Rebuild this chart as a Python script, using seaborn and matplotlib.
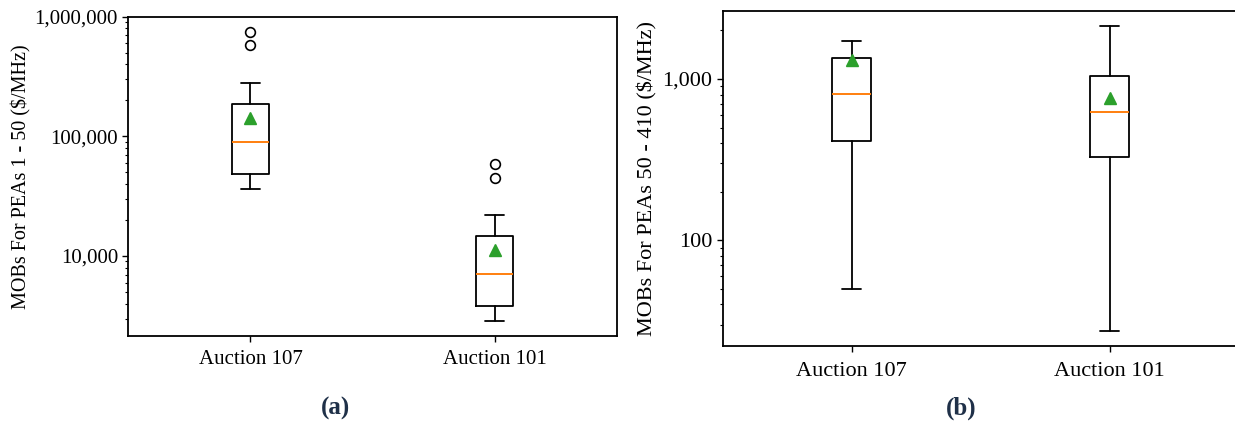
import matplotlib
matplotlib.use("Agg")
import matplotlib.pyplot as plt
import matplotlib.ticker as mticker
import seaborn as sns

# ---- data ----
auctions = ["Auction 107", "Auction 101"]

# panel (a): MOBs for PEAs 1 - 50
a_whislo = [36500, 2840]
a_q1 = [48400, 3820]
a_med = [89700, 7030]
a_q3 = [186000, 14600]
a_whishi = [277000, 21900]
a_mean = [141000, 11200]
a_fliers = [[580000, 750000], [45200, 58800]]

# panel (b): MOBs for PEAs 50 - 410
b_whislo = [49.9, 27.5]
b_q1 = [411, 327]
b_med = [803, 628]
b_q3 = [1343, 1039]
b_whishi = [1711, 2141]
b_mean = [1312, 766]
b_fliers = [[], []]

a_ylabel = "MOBs For PEAs 1 - 50 (\\$/MHz)"
b_ylabel = "MOBs For PEAs 50 - 410 (\\$/MHz)"

sns.set_theme(style="ticks", palette="tab10")
plt.rcParams["font.family"] = ["Liberation Serif", "DejaVu Serif"]
plt.rcParams["axes.edgecolor"] = "black"
plt.rcParams["xtick.color"] = "black"
plt.rcParams["ytick.color"] = "black"
plt.rcParams["text.color"] = "black"
plt.rcParams["axes.labelcolor"] = "black"


def make_stats(labels, whislo, q1, med, q3, whishi, mean, fliers):
    out = []
    for i, lab in enumerate(labels):
        out.append(dict(label=lab, whislo=whislo[i], q1=q1[i], med=med[i],
                        q3=q3[i], whishi=whishi[i], mean=mean[i],
                        fliers=fliers[i]))
    return out


W, H = 1235, 424
fig = plt.figure(figsize=(W / 100, H / 100), dpi=100)

ax_a = fig.add_axes([128.4 / W, 1 - 335.7 / H, (616.7 - 128.4) / W, (335.7 - 16.7) / H])
ax_b = fig.add_axes([722.5 / W, 1 - 345.7 / H, 516.0 / W, (345.7 - 10.7) / H])

common = dict(
    showmeans=True,
    boxprops=dict(color="black", linewidth=1.3),
    whiskerprops=dict(color="black", linewidth=1.3),
    capprops=dict(color="black", linewidth=1.3),
    medianprops=dict(color="#ff7f0e", linewidth=1.4),
    meanprops=dict(marker="^", markerfacecolor="#2ca02c", markeredgecolor="#2ca02c",
                   markersize=8),
    flierprops=dict(marker="o", markerfacecolor="none", markeredgecolor="black",
                    markersize=7, markeredgewidth=1.2),
)

ax_a.bxp(make_stats(auctions, a_whislo, a_q1, a_med, a_q3, a_whishi, a_mean, a_fliers),
         **common)
ax_b.bxp(make_stats(auctions, b_whislo, b_q1, b_med, b_q3, b_whishi, b_mean, b_fliers),
         **common)

fmt = mticker.FuncFormatter(lambda v, p: f"{v:,.0f}")
for ax, ylim, lab, fs, lfs, xpad in [(ax_a, (2157, 1.0e6), a_ylabel, 15, 14.5, 6.5),
                                     (ax_b, (22.2, 2650), b_ylabel, 16, 16, 7.5)]:
    ax.set_yscale("log")
    ax.set_ylim(*ylim)
    ax.set_xlim(0.5, 2.5)
    ax.yaxis.set_major_formatter(fmt)
    ax.yaxis.set_minor_formatter(mticker.NullFormatter())
    ax.set_ylabel(lab, fontsize=lfs)
    ax.tick_params(axis="both", which="major", labelsize=fs, length=4, width=1)
    ax.tick_params(axis="x", which="major", pad=xpad)
    ax.tick_params(axis="y", which="minor", length=2.5, width=0.8)
    for s in ax.spines.values():
        s.set_linewidth(1.3)
        s.set_visible(True)

ax_a.yaxis.set_label_coords(-(128.4 - 31) / (616.7 - 128.4), 0.5)
ax_b.yaxis.set_label_coords(-(722.5 - 657) / 516.0, 0.5)

fig.text(336 / W, 1 - 408 / H, "(a)", ha="center", va="center", fontsize=18,
         fontweight="bold", color="#1f3048")
fig.text(961 / W, 1 - 408 / H, "(b)", ha="center", va="center", fontsize=18,
         fontweight="bold", color="#1f3048")

fig.savefig("out.png", dpi=100)
